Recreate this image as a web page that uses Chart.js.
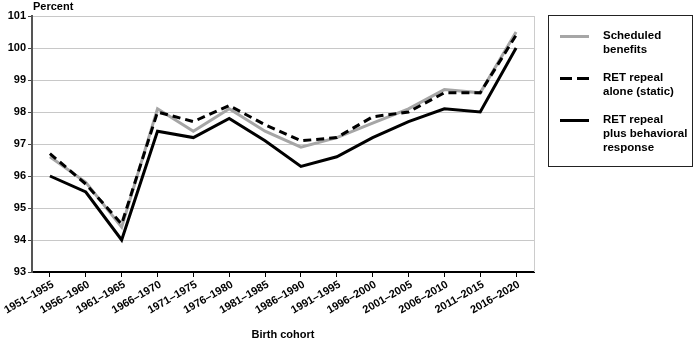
<!DOCTYPE html>
<html>
<head>
<meta charset="utf-8">
<script src="https://cdn.jsdelivr.net/npm/chart.js@4"></script>
<style>
  html, body { margin: 0; padding: 0; background: #fff; }
  #wrap { position: relative; width: 700px; height: 344px; font-family: "Liberation Sans", Arial, sans-serif; }
  #yTitle { position: absolute; left: 33px; top: 0px; font-weight: bold; font-size: 11px; line-height: 13px; color: #000; }
  #legend { position: absolute; left: 548px; top: 15px; width: 143px; height: 150px; border: 1.5px solid #222; box-sizing: content-box; }
  .item { position: absolute; left: 0; width: 143px; }
  .sample { position: absolute; left: 11px; width: 29px; height: 3px; }
  .txt { position: absolute; left: 54px; font-weight: bold; font-size: 11.5px; line-height: 14px; color: #000; white-space: nowrap; }
</style>
</head>
<body>
<div id="wrap">
  <canvas id="c" width="700" height="344"></canvas>
  <div id="yTitle">Percent</div>
  <div id="legend"></div>
</div>
<script>
const categories = ["1951–1955","1956–1960","1961–1965","1966–1970","1971–1975","1976–1980","1981–1985","1986–1990","1991–1995","1996–2000","2001–2005","2006–2010","2011–2015","2016–2020"];
const scheduledBenefits = [96.6, 95.8, 94.4, 98.1, 97.4, 98.1, 97.4, 96.9, 97.2, 97.65, 98.1, 98.7, 98.6, 100.5];
const retRepealStatic   = [96.7, 95.75, 94.5, 98.0, 97.7, 98.2, 97.6, 97.1, 97.2, 97.85, 98.0, 98.6, 98.6, 100.4];
const retRepealBehavioral = [96.0, 95.5, 94.0, 97.4, 97.2, 97.8, 97.1, 96.3, 96.6, 97.2, 97.7, 98.1, 98.0, 100.0];
const yTicks = [93, 94, 95, 96, 97, 98, 99, 100, 101];
const legendLabels = [["Scheduled","benefits"],["RET repeal","alone (static)"],["RET repeal","plus behavioral","response"]];

const FONT = "'Liberation Sans', Arial, sans-serif";

const styles = [
  { color: "#a6a6a6", dash: [] },
  { color: "#000000", dash: [8, 5] },
  { color: "#000000", dash: [] }
];

const rightBorder = {
  id: "rightBorder",
  beforeDatasetsDraw(chart) {
    const { ctx, chartArea } = chart;
    ctx.save();
    ctx.strokeStyle = "#cccccc";
    ctx.lineWidth = 1;
    ctx.beginPath();
    ctx.moveTo(Math.round(chartArea.right) + 0.5, chartArea.top);
    ctx.lineTo(Math.round(chartArea.right) + 0.5, chartArea.bottom);
    ctx.stroke();
    ctx.restore();
  }
};

const seriesData = [scheduledBenefits, retRepealStatic, retRepealBehavioral];
const names = ["Scheduled benefits", "RET repeal alone (static)", "RET repeal plus behavioral response"];

new Chart(document.getElementById("c"), {
  type: "line",
  data: {
    labels: categories,
    datasets: seriesData.map((d, i) => ({
      label: names[i],
      data: d,
      borderColor: styles[i].color,
      borderDash: styles[i].dash,
      borderWidth: 3,
      pointRadius: 0,
      tension: 0,
      fill: false,
      order: 2 - i
    }))
  },
  options: {
    responsive: false,
    animation: false,
    layout: { padding: { top: 16, right: 166, left: 0, bottom: 0 } },
    plugins: { legend: { display: false }, tooltip: { enabled: false } },
    scales: {
      x: {
        type: "category",
        offset: true,
        grid: { display: true, drawOnChartArea: false, drawTicks: true, tickLength: 5, color: "#000", offset: false },
        border: { display: true, color: "#000", width: 2 },
        ticks: {
          color: "#000",
          font: { family: FONT, size: 11, weight: "bold" },
          minRotation: 30, maxRotation: 30,
          autoSkip: false,
          padding: 1,
          labelOffset: 3
        },
        title: {
          display: true,
          text: "Birth cohort",
          color: "#000",
          font: { family: FONT, size: 11, weight: "bold" },
          padding: { top: 15, bottom: 2 }
        },
        afterFit(scale) { scale.height = 72; }
      },
      y: {
        min: 93, max: 101,
        afterBuildTicks(scale) { scale.ticks = yTicks.map(v => ({ value: v })); },
        grid: { color: "#c8c8c8", lineWidth: 1, drawTicks: true, tickLength: 4, tickColor: "#444" },
        border: { display: true, color: "#555", width: 2 },
        ticks: {
          color: "#000",
          font: { family: FONT, size: 11, weight: "bold" },
          padding: 2
        },
        afterFit(scale) { scale.width = 32; }
      }
    }
  },
  plugins: [rightBorder]
});

// HTML legend
const legend = document.getElementById("legend");
const tops = [12, 54, 96];
legendLabels.forEach((lines, i) => {
  const it = document.createElement("div");
  it.className = "item";
  it.style.top = tops[i] + "px";
  const s = document.createElement("div");
  s.className = "sample";
  s.style.top = "7px";
  if (styles[i].dash.length) {
    s.style.background = "linear-gradient(90deg,#000 0 12px,transparent 12px 17px,#000 17px 29px)";
  } else {
    s.style.background = styles[i].color;
  }
  it.appendChild(s);
  const t = document.createElement("div");
  t.className = "txt";
  t.style.top = "0px";
  t.innerHTML = lines.join("<br>");
  it.appendChild(t);
  legend.appendChild(it);
});
</script>
</body>
</html>
